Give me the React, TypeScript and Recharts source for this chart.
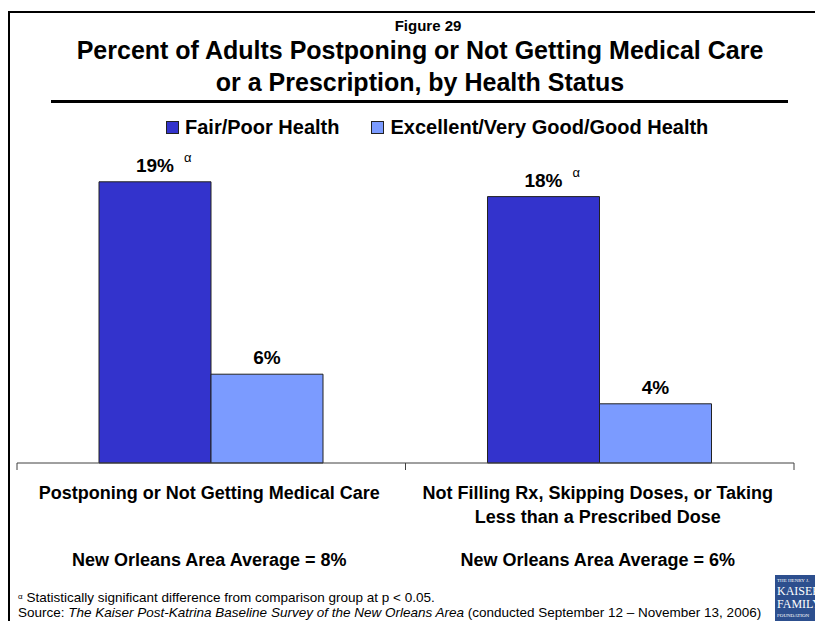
import { BarChart, Bar, XAxis, YAxis, LabelList } from "recharts";

const categories = ["care", "rx"];
const categoryLines = [
  ["Postponing or Not Getting Medical Care"],
  ["Not Filling Rx, Skipping Doses, or Taking", "Less than a Prescribed Dose"],
];
const fairPoor = [19, 18];
const excellentGood = [6, 4];
const significant = [true, true];
const areaAverages = [8, 6];

const FONT = "'Liberation Sans', Arial, Helvetica, sans-serif";
const DARK = "#3333CC";
const LIGHT = "#7B9BFF";

const CHART_W = 815;
const CHART_H = 621;
const XAXIS_H = 30;
const MARGIN = { top: 167, right: 21, left: 17, bottom: 128 };
const AXIS_Y = CHART_H - MARGIN.bottom - XAXIS_H;
const PLOT_W = CHART_W - MARGIN.left - MARGIN.right;

const data = categories.map((id, i) => ({
  id,
  fairPoor: fairPoor[i],
  good: excellentGood[i],
  sig: significant[i],
  avg: areaAverages[i],
}));

function CategoryTick(props: any) {
  const { x, payload, index } = props;
  const i = typeof index === "number" ? index : categories.indexOf(payload.value);
  const band = PLOT_W / categories.length;
  const lines = categoryLines[i] || [];
  return (
    <g>
      <line x1={x - band / 2} x2={x - band / 2} y1={AXIS_Y} y2={AXIS_Y + 7} stroke="#404040" />
      {i === categories.length - 1 && (
        <line x1={x + band / 2} x2={x + band / 2} y1={AXIS_Y} y2={AXIS_Y + 7} stroke="#404040" />
      )}
      {lines.map((t, k) => (
        <text
          key={k}
          x={x - 2}
          y={AXIS_Y + 36 + k * 24}
          textAnchor="middle"
          fontFamily={FONT}
          fontWeight="bold"
          fontSize={18}
          fill="#000"
        >
          {t}
        </text>
      ))}
      <text
        x={x - 2}
        y={AXIS_Y + 103}
        textAnchor="middle"
        fontFamily={FONT}
        fontWeight="bold"
        fontSize={18}
        fill="#000"
      >
        {`New Orleans Area Average = ${data[i]?.avg}%`}
      </text>
    </g>
  );
}

function valueLabel(withSig: boolean) {
  return (props: any) => {
    const { x, y, width, value, index } = props;
    const cx = x + width / 2;
    return (
      <g>
        <text
          x={cx}
          y={y - 10}
          textAnchor="middle"
          fontFamily={FONT}
          fontWeight="bold"
          fontSize={19}
          fill="#000"
        >
          {`${value}%`}
        </text>
        {withSig && significant[index] && (
          <text x={cx + 29} y={y - 20} fontFamily={FONT} fontSize={13} fill="#000">
            α
          </text>
        )}
      </g>
    );
  };
}

function LegendItem({ color, label }: { color: string; label: string }) {
  return (
    <div style={{ display: "flex", alignItems: "center" }}>
      <span
        style={{
          display: "inline-block",
          width: 11,
          height: 11,
          background: color,
          border: "1px solid #222",
          marginRight: 6,
        }}
      />
      <span>{label}</span>
    </div>
  );
}

export default function App() {
  return (
    <div
      style={{
        position: "absolute",
        left: 0,
        top: 0,
        width: CHART_W,
        height: CHART_H,
        overflow: "hidden",
        background: "#fff",
        fontFamily: FONT,
        color: "#000",
      }}
    >
      <div
        style={{
          position: "absolute",
          left: 8,
          top: 11,
          width: 900,
          height: 700,
          border: "2px solid #000",
        }}
      />
      <div
        style={{
          position: "absolute",
          left: 0,
          top: 17,
          width: 856,
          textAlign: "center",
          fontWeight: "bold",
          fontSize: 15,
          lineHeight: "18px",
        }}
      >
        Figure 29
      </div>
      <div
        style={{
          position: "absolute",
          left: 0,
          top: 34,
          width: 840,
          textAlign: "center",
          fontWeight: "bold",
          fontSize: 25,
          lineHeight: "32px",
        }}
      >
        Percent of Adults Postponing or Not Getting Medical Care
        <br />
        or a Prescription, by Health Status
      </div>
      <div
        style={{
          position: "absolute",
          left: 51,
          top: 100,
          width: 737,
          height: 3,
          background: "#000",
        }}
      />
      <div
        style={{
          position: "absolute",
          left: 166,
          top: 115,
          display: "flex",
          gap: 32,
          fontWeight: "bold",
          fontSize: 20,
          lineHeight: "24px",
        }}
      >
        <LegendItem color={DARK} label="Fair/Poor Health" />
        <LegendItem color={LIGHT} label="Excellent/Very Good/Good Health" />
      </div>

      <div style={{ position: "absolute", left: 0, top: 0 }}>
        <BarChart width={CHART_W} height={CHART_H} data={data} margin={MARGIN} barGap={0} barCategoryGap={82}>
          <XAxis
            dataKey="id"
            height={XAXIS_H}
            tickLine={false}
            axisLine={{ stroke: "#404040" }}
            tick={<CategoryTick />}
            interval={0}
          />
          <YAxis hide domain={[0, 20]} />
          <Bar dataKey="fairPoor" fill={DARK} stroke="#222" strokeWidth={1} isAnimationActive={false}>
            <LabelList dataKey="fairPoor" content={valueLabel(true)} />
          </Bar>
          <Bar dataKey="good" fill={LIGHT} stroke="#222" strokeWidth={1} isAnimationActive={false}>
            <LabelList dataKey="good" content={valueLabel(false)} />
          </Bar>
        </BarChart>
      </div>

      <div
        style={{
          position: "absolute",
          left: 18,
          top: 589,
          fontSize: 13.5,
          lineHeight: "15px",
          whiteSpace: "nowrap",
        }}
      >
        <div>
          <span style={{ fontSize: 8, verticalAlign: "3px" }}>α</span> Statistically significant difference from
          comparison group at p &lt; 0.05.
        </div>
        <div>
          Source: <i>The Kaiser Post-Katrina Baseline Survey of the New Orleans Area</i> (conducted September 12 –
          November 13, 2006)
        </div>
      </div>

      <div
        style={{
          position: "absolute",
          left: 775,
          top: 575,
          width: 50,
          height: 50,
          background: "#2d4f8e",
          color: "#fff",
          fontFamily: "'Liberation Serif', 'DejaVu Serif', serif",
          paddingLeft: 2,
          boxSizing: "border-box",
          overflow: "hidden",
        }}
      >
        <div style={{ fontSize: 5, lineHeight: "9px", marginTop: 1 }}>THE HENRY J.</div>
        <div style={{ fontSize: 12, lineHeight: "13px" }}>KAISER</div>
        <div style={{ fontSize: 12, lineHeight: "13px" }}>FAMILY</div>
        <div style={{ fontSize: 5, lineHeight: "9px" }}>FOUNDATION</div>
      </div>
    </div>
  );
}
